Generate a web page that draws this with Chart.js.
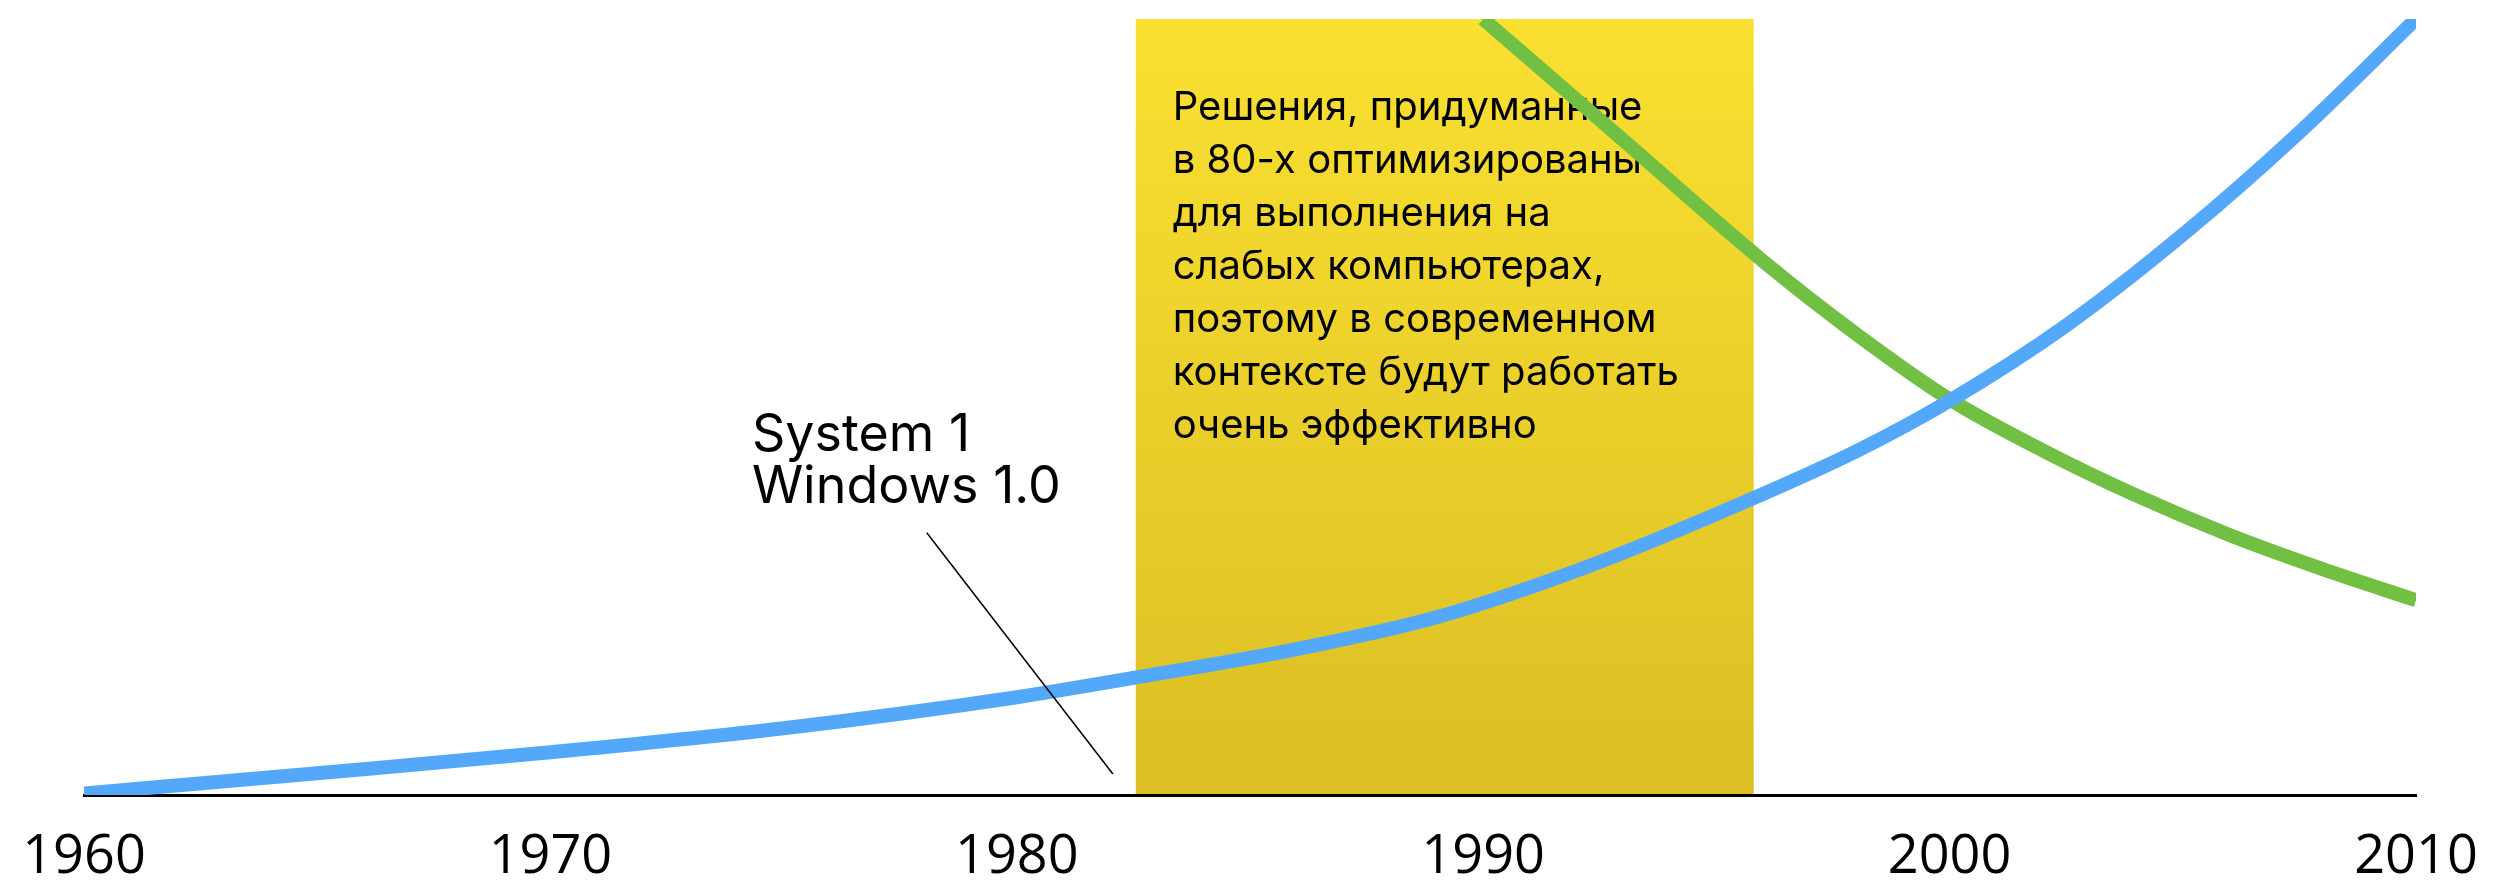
<!DOCTYPE html>
<html>
<head>
<meta charset="utf-8">
<script src="https://cdn.jsdelivr.net/npm/chart.js@4/dist/chart.umd.min.js"></script>
<style>
    html, body { margin: 0; padding: 0; background: #fff; }
    canvas { display: block; }
</style>
</head>
<body>
<canvas id="timeline-chart" width="2509" height="880"></canvas>
<script>
// Data

const yearTicks = ['1960', '1970', '1980', '1990', '2000', '2010'];

// blue: hardware power
const hardwareYears  = [1960, 1965, 1970, 1975, 1980, 1983, 1986, 1989, 1992, 1995, 1998, 2000, 2002.5, 2005, 2007.5, 2010];
const hardwareValues = [0.2, 2.8, 5.5, 8.6, 12.6, 15.6, 18.8, 22.9, 28.9, 36.2, 44.3, 50.8, 60.5, 72.2, 85.4, 100];

// green: what 80s solutions are worth
const legacyYears  = [1990, 1993, 1996, 1998, 2000, 2002, 2004, 2006, 2008, 2010];
const legacyValues = [100, 84.4, 68.8, 59.4, 51.0, 44.4, 38.6, 33.5, 29.1, 25.1];

const eraStart = 1982.55;
const eraEnd = 1995.8;
const eraNote = [
    'Решения, придуманные',
    'в 80-х оптимизированы',
    'для выполнения на',
    'слабых компьютерах,',
    'поэтому в современном',
    'контексте будут работать',
    'очень эффективно'
];

const releaseNote = ['System 1', 'Windows 1.0'];
const releaseLabelAt = { x: 1974.32, y: 44.3 };
const releaseLeader = { x1: 1978.07, y1: 33.8, x2: 1982.06, y2: 2.7 };

const colors = {
    blue: '#54a8f9',
    green: '#71bf43',
    boxTop: '#fae031',
    boxBottom: '#dbbf24',
    ink: '#000000'
};

const fontFamily = 'Inter, "Noto Sans", sans-serif';
const tickFamily = '"Open Sans", "Noto Sans", sans-serif';

// Yellow era box with its note, painted before the axis and lines
const eraBox = {
    id: 'eraBox',
    beforeDraw(chart) {
        const {ctx, scales: {x, y}} = chart;
        const left = x.getPixelForValue(eraStart);
        const right = x.getPixelForValue(eraEnd);
        const top = y.getPixelForValue(y.max);
        const bottom = y.getPixelForValue(0);

        let grad = ctx.createLinearGradient(0, top, 0, bottom);
        grad.addColorStop(0, colors.boxTop);
        grad.addColorStop(1, colors.boxBottom);

        ctx.save();
        ctx.fillStyle = grad;
        ctx.fillRect(left, top, right - left, bottom - top);

        ctx.fillStyle = colors.ink;
        ctx.font = '400 40px ' + fontFamily;
        ctx.textBaseline = 'alphabetic';
        eraNote.forEach(function(line, i) {
            ctx.fillText(line, left + 37, top + 101 + i * 53);
        });
        ctx.restore();
    }
};

// Release label with a thin leader line, on top of the curves
const releaseMark = {
    id: 'releaseMark',
    afterDatasetsDraw(chart) {
        const {ctx, scales: {x, y}} = chart;
        ctx.save();
        ctx.strokeStyle = colors.ink;
        ctx.lineWidth = 1.5;
        ctx.beginPath();
        ctx.moveTo(x.getPixelForValue(releaseLeader.x1), y.getPixelForValue(releaseLeader.y1));
        ctx.lineTo(x.getPixelForValue(releaseLeader.x2), y.getPixelForValue(releaseLeader.y2));
        ctx.stroke();

        ctx.fillStyle = colors.ink;
        ctx.font = '400 52px ' + fontFamily;
        ctx.textBaseline = 'alphabetic';
        const lx = x.getPixelForValue(releaseLabelAt.x);
        const ly = y.getPixelForValue(releaseLabelAt.y);
        releaseNote.forEach(function(line, i) {
            ctx.fillText(line, lx, ly + i * 52);
        });
        ctx.restore();
    }
};

function toPoints(xs, ys) {
    return xs.map(function(v, i) { return {x: v, y: ys[i]}; });
}

document.addEventListener('DOMContentLoaded', function() {
    let chartDom = document.getElementById('timeline-chart').getContext('2d');
    new Chart(chartDom, {
        type: 'line',
        data: {
            datasets: [
                {
                    label: 'hardware',
                    data: toPoints(hardwareYears, hardwareValues),
                    borderColor: colors.blue,
                    borderWidth: 14,
                    cubicInterpolationMode: 'monotone',
                    pointRadius: 0,
                    fill: false
                },
                {
                    label: 'legacy',
                    data: toPoints(legacyYears, legacyValues),
                    borderColor: colors.green,
                    borderWidth: 14,
                    cubicInterpolationMode: 'monotone',
                    pointRadius: 0,
                    fill: false
                }
            ]
        },
        options: {
            responsive: false,
            animation: false,
            events: [],
            layout: {
                padding: {left: 84, right: 93, top: 19, bottom: 0}
            },
            plugins: {
                legend: {display: false},
                tooltip: {enabled: false}
            },
            scales: {
                x: {
                    type: 'linear',
                    min: 1960,
                    max: 2010,
                    afterFit: function(axis) {
                        // fixed axis band, edge labels may hang into the side padding
                        axis.height = 85;
                        axis.paddingLeft = 0;
                        axis.paddingRight = 0;
                    },
                    grid: {display: false, drawTicks: false},
                    border: {display: true, color: colors.ink, width: 3},
                    ticks: {
                        stepSize: 10,
                        autoSkip: false,
                        maxRotation: 0,
                        padding: 36,
                        color: colors.ink,
                        font: {family: tickFamily, size: 54, lineHeight: 1},
                        callback: function(value) {
                            return yearTicks[Math.round((value - 1960) / 10)];
                        }
                    }
                },
                y: {
                    display: false,
                    min: 0,
                    max: 100
                }
            }
        },
        plugins: [eraBox, releaseMark]
    });
});
</script>
</body>
</html>
